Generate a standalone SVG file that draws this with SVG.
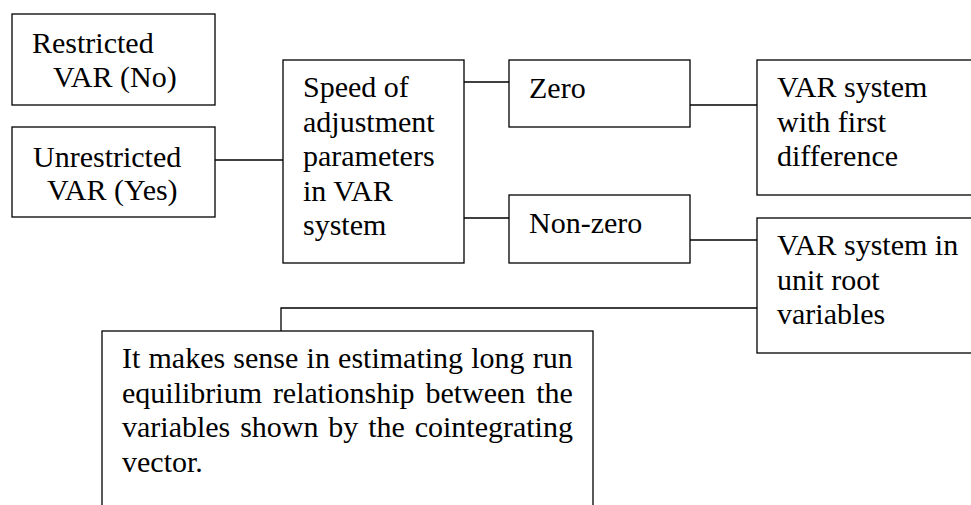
<svg xmlns="http://www.w3.org/2000/svg" width="971" height="505" viewBox="0 0 971 505">
  <style>
    .box { fill: #fff; stroke: #000; stroke-width: 1.3; }
    .link { fill: none; stroke: #000; stroke-width: 1.3; }
    text { font-family: "Liberation Serif", "Times New Roman", serif; font-size: 30px; fill: #000; }
  </style>
  <rect width="971" height="505" fill="#fff"/>

  <!-- connectors -->
  <g id="connectors">
    <line class="link" x1="215" y1="160" x2="283" y2="160"/>
    <line class="link" x1="464" y1="82" x2="509" y2="82"/>
    <line class="link" x1="464" y1="218" x2="509" y2="218"/>
    <line class="link" x1="690" y1="105" x2="757" y2="105"/>
    <line class="link" x1="690" y1="240" x2="757" y2="240"/>
    <polyline class="link" points="757,308 281,308 281,331"/>
  </g>

  <g id="restricted">
    <rect class="box" x="12" y="14" width="203" height="91"/>
    <text x="32" y="53">Restricted</text>
    <text x="53" y="87">VAR (No)</text>
  </g>

  <g id="unrestricted">
    <rect class="box" x="12" y="127" width="203" height="90"/>
    <text x="33" y="167">Unrestricted</text>
    <text x="47" y="200">VAR (Yes)</text>
  </g>

  <g id="speed">
    <rect class="box" x="283" y="60" width="181" height="203"/>
    <text x="303" y="97">Speed of</text>
    <text x="303" y="131.5">adjustment</text>
    <text x="303" y="166">parameters</text>
    <text x="303" y="201">in VAR</text>
    <text x="303" y="235">system</text>
  </g>

  <g id="zero">
    <rect class="box" x="509" y="60" width="181" height="67"/>
    <text x="529" y="98">Zero</text>
  </g>

  <g id="nonzero">
    <rect class="box" x="509" y="195" width="181" height="68"/>
    <text x="529" y="233">Non-zero</text>
  </g>

  <g id="first-difference">
    <rect class="box" x="757" y="60" width="230" height="135"/>
    <text x="777" y="97">VAR system</text>
    <text x="777" y="131.5">with first</text>
    <text x="777" y="166">difference</text>
  </g>

  <g id="unit-root">
    <rect class="box" x="757" y="218" width="230" height="135"/>
    <text x="777" y="255">VAR system in</text>
    <text x="777" y="289.5">unit root</text>
    <text x="777" y="323.5">variables</text>
  </g>

  <g id="cointegration">
    <rect class="box" x="102" y="331" width="491" height="200"/>
    <text x="122" y="368" word-spacing="0.7">It makes sense in estimating long run</text>
    <text x="122" y="403" word-spacing="3.4">equilibrium relationship between the</text>
    <text x="122" y="437" word-spacing="2.35">variables shown by the cointegrating</text>
    <text x="122" y="472">vector.</text>
  </g>
</svg>
